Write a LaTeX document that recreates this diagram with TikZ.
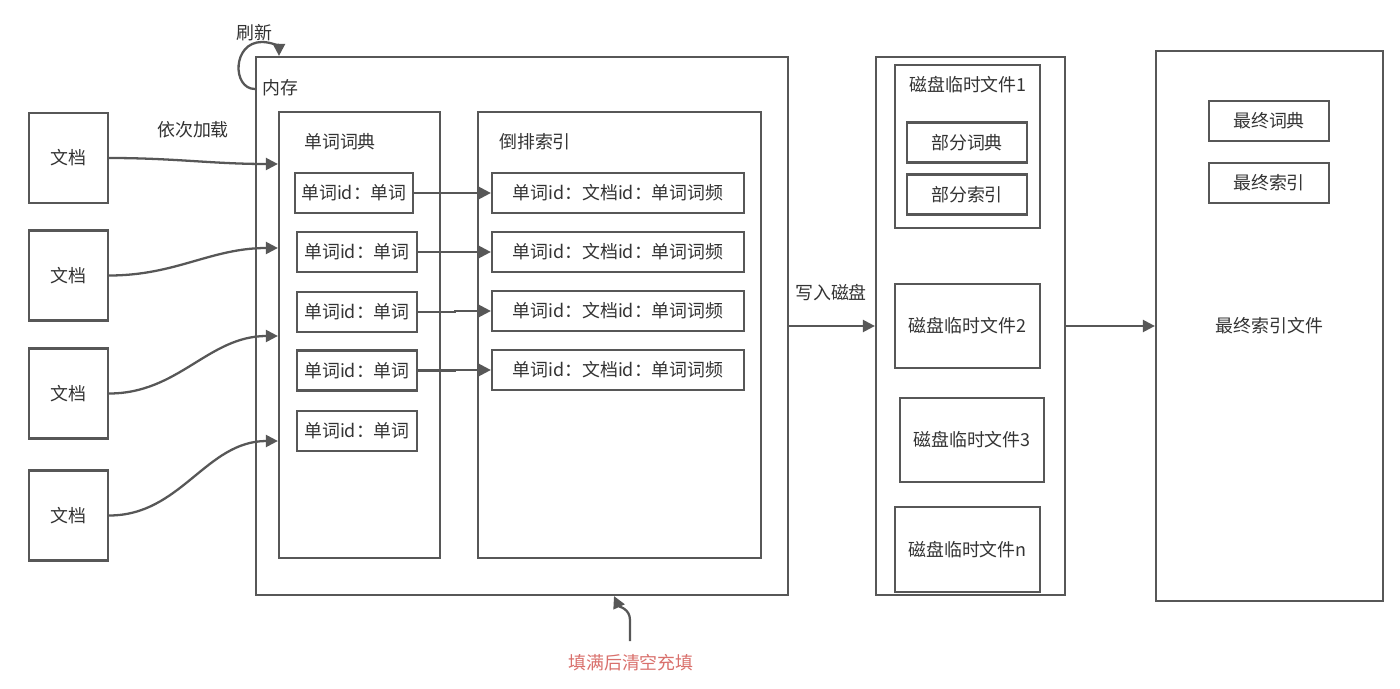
\documentclass[tikz,border=0pt]{standalone}
\usepackage{fontspec}
\setmainfont{Noto Sans CJK SC}
\usetikzlibrary{positioning, arrows.meta}
\definecolor{linegray}{HTML}{575757}
\definecolor{textgray}{HTML}{333333}
\definecolor{notered}{HTML}{D9706C}

\begin{document}
\begin{tikzpicture}[
    x=0.02cm, y=-0.02cm,
    >={Triangle[length=2.4mm, width=2.4mm]},
    every node/.style={font=\fontsize{10.2}{12}\selectfont, text=textgray},
    box/.style={draw=linegray, line width=1.3pt, inner sep=0pt},
    doc/.style={box, minimum width=1.58cm, minimum height=1.8cm},
    entry/.style={box, minimum width=2.4cm, minimum height=0.8cm},
    posting/.style={box, minimum width=5.04cm, minimum height=0.8cm},
    tmpfile/.style={box, minimum width=2.9cm, minimum height=1.68cm},
    arrow/.style={->, draw=linegray, line width=1.3pt},
]
\useasboundingbox (0,0) rectangle (1400,689);

% ── Documents ──
\node[doc] (doc1) at (68.5,158) {文档};
\node[doc] (doc2) at (68.5,275.5) {文档};
\node[doc] (doc3) at (68.5,393.5) {文档};
\node[doc] (doc4) at (68.5,515.5) {文档};
\node (load) at (193,130) {依次加载};

% ── Memory ──
\node[box, minimum width=10.64cm, minimum height=10.76cm] (mem) at (522,326) {};
\node (memlabel) at (280,88) {内存};
\node (refresh) at (254,33) {刷新};

% Word dictionary
\node[box, minimum width=3.22cm, minimum height=8.92cm] (dict) at (359.5,335) {};
\node (dictlabel) at (340,142) {单词词典};
\node[entry, minimum width=2.36cm] (w1) at (354,193) {单词id：单词};
\node[entry] (w2) at (357,252) {单词id：单词};
\node[entry] (w3) at (357,312) {单词id：单词};
\node[entry] (w4) at (357,370.5) {单词id：单词};
\node[entry] (w5) at (357,431) {单词id：单词};

% Inverted index
\node[box, minimum width=5.66cm, minimum height=8.92cm] (index) at (619.5,335) {};
\node (indexlabel) at (535,142) {倒排索引};
\node[posting] (ix1) at (618,193) {单词id：文档id：单词词频};
\node[posting] (ix2) at (618,252) {单词id：文档id：单词词频};
\node[posting] (ix3) at (618,311) {单词id：文档id：单词词频};
\node[posting] (ix4) at (618,370) {单词id：文档id：单词词频};

% Fill note
\node[text=notered] (fillnote) at (631,663) {填满后清空充填};

% ── Disk ──
\node[box, minimum width=3.78cm, minimum height=10.76cm] (disk) at (970.5,326) {};
\node[box, minimum width=2.9cm, minimum height=3.26cm] (file1) at (967.5,146.5) {};
\node (file1label) at (968,85) {磁盘临时文件1};
\node[entry] (partdict) at (967,142.5) {部分词典};
\node[entry] (partidx) at (967,194.5) {部分索引};
\node[tmpfile] (file2) at (967.5,326) {磁盘临时文件2};
\node[tmpfile, minimum width=2.88cm] (file3) at (972,440) {磁盘临时文件3};
\node[tmpfile, minimum height=1.7cm] (filen) at (967.5,549.5) {磁盘临时文件n};
\node (writelabel) at (831,293) {写入磁盘};

% ── Final index file ──
\node[box, minimum width=4.54cm, minimum height=11cm] (final) at (1269.5,326) {最终索引文件};
\node[entry] (finaldict) at (1269,121) {最终词典};
\node[entry] (finalidx) at (1269,183) {最终索引};

% ── Arrows ──
% Documents → dictionary
\draw[arrow] (doc1.east) to[out=0, in=180] (dict.west |- 0,164);
\draw[arrow] (doc2.east) to[out=0, in=180] (dict.west |- 0,248);
\draw[arrow] (doc3.east) to[out=0, in=180] (dict.west |- 0,336);
\draw[arrow] (doc4.east) to[out=0, in=180] (dict.west |- 0,441);

% Dictionary → index
\draw[arrow] (w1.east) -- (ix1.west);
\draw[arrow] (w2.east) -- (ix2.west);
\draw[arrow] (w3.east) -- ++(37,0) |- (ix3.west);
\draw[arrow] (w4.east) -- ++(37,0) |- (ix4.west);

% Refresh loop
\coordinate (refstart) at (mem.west |- 0,89);
\draw[arrow] (refstart) .. controls (232,89) and (232,42) .. (262,42)
    .. controls (272,42) and (279,47) .. (mem.north -| 279,0);

% Fill note → memory
\coordinate (fillstart) at (630,641);
\draw[arrow] (fillstart) -- (630,620) to[out=90, in=-65] (mem.south -| 614,0);

% Memory → disk → final
\draw[arrow] (mem.east) -- (disk.west);
\draw[arrow] (disk.east) -- (final.west);

\end{tikzpicture}
\end{document}
